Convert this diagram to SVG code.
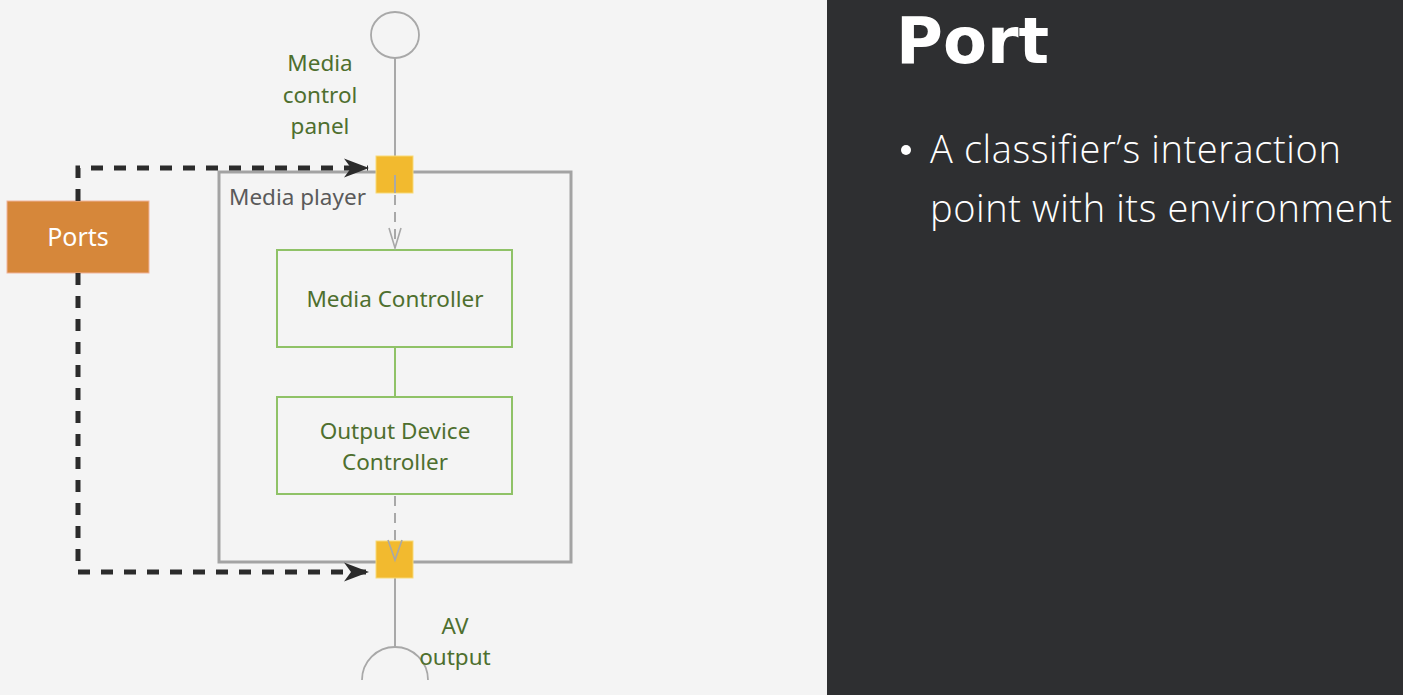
<svg xmlns="http://www.w3.org/2000/svg" width="1403" height="695" viewBox="0 0 1403 695">
  <style>
    .lbl { font-family: "Noto Sans", "Liberation Sans", sans-serif; font-size: 22.5px; fill: #4e6f2e; text-anchor: middle; }
    .gray { fill: #5a5a5a; text-anchor: start; }
    .box { fill: none; stroke: #8fc267; stroke-width: 2; }
    .port { fill: #f2ba2f; stroke: #f7d978; stroke-width: 1; }
    .thin { stroke: #a8a8a8; stroke-width: 2; fill: none; }
    .dash { stroke: #a8a8a8; stroke-width: 2; fill: none; stroke-dasharray: 10 7; }
    .vhead { stroke: #a8a8a8; stroke-width: 1.6; fill: none; }
    .bold { stroke: #2b2b2b; stroke-width: 5; fill: none; stroke-dasharray: 12 11; }
    .slide { font-family: "Open Sans", "Lato", "Noto Sans", sans-serif; fill: #ffffff; }
  </style>
  <defs>
    <marker id="arrowBlack" markerWidth="26" markerHeight="20" refX="24" refY="10" orient="auto" markerUnits="userSpaceOnUse">
      <path d="M0,0.5 L25,10 L0,19.5 L7,10 Z" fill="#2b2b2b"/>
    </marker>
  </defs>

  <rect x="0" y="0" width="827" height="695" fill="#f4f4f4"/>
  <rect x="827" y="0" width="576" height="695" fill="#2e2f31"/>

  <g id="media-player">
    <rect x="219" y="172" width="352" height="390" fill="none" stroke="#a3a3a3" stroke-width="3"/>
    <text class="lbl gray" x="229" y="205">Media player</text>
  </g>

  <g id="media-control-panel">
    <ellipse cx="395" cy="35" rx="24" ry="23" fill="none" stroke="#a8a8a8" stroke-width="1.8"/>
    <text class="lbl" x="320" y="71">Media</text>
    <text class="lbl" x="320" y="103">control</text>
    <text class="lbl" x="320" y="134">panel</text>
  </g>

  <g id="av-output">
    <path d="M362,680 A33,33 0 0 1 428,680" fill="none" stroke="#a8a8a8" stroke-width="1.8"/>
    <text class="lbl" x="455" y="634">AV</text>
    <text class="lbl" x="455" y="665">output</text>
  </g>

  <g id="media-controller">
    <rect class="box" x="277" y="250" width="235" height="97"/>
    <text class="lbl" x="395" y="307">Media Controller</text>
  </g>

  <g id="output-device-controller">
    <rect class="box" x="277" y="397" width="235" height="97"/>
    <text class="lbl" x="395" y="439">Output Device</text>
    <text class="lbl" x="395" y="470">Controller</text>
  </g>

  <g id="ports">
    <rect x="7" y="201" width="142" height="72" fill="#d6873a" stroke="#f0b39a" stroke-width="1"/>
    <text x="78" y="246" font-family="Noto Sans, Liberation Sans, sans-serif" font-size="25" fill="#ffffff" text-anchor="middle">Ports</text>
  </g>

  <g id="connectors">
    <line class="thin" x1="395" y1="58" x2="395" y2="157"/>
    <line class="thin" x1="395" y1="578" x2="395" y2="647"/>
    <line x1="395" y1="347" x2="395" y2="397" stroke="#8fc267" stroke-width="2"/>
    <path class="dash" d="M395,195 L395,248"/>
    <path class="vhead" d="M389,228 L395,248 L401,228"/>
    <path class="dash" d="M395,496 L395,545"/>
    <path class="bold" d="M78,201 L78,168 L368,168" marker-end="url(#arrowBlack)"/>
    <path class="bold" d="M78,273 L78,572 L368,572" marker-end="url(#arrowBlack)"/>
  </g>

  <g id="port-top">
    <rect class="port" x="376" y="156" width="37" height="37"/>
    <line x1="395" y1="175" x2="395" y2="193" stroke="#a8a8a8" stroke-width="2"/>
  </g>
  <g id="port-bottom">
    <rect class="port" x="376" y="541" width="37" height="37"/>
    <path class="vhead" d="M388,540 L395,560 L402,540"/>
  </g>

  <g id="slide-text">
    <text x="896" y="63" font-family="DejaVu Sans, sans-serif" font-size="64" font-weight="700" fill="#ffffff">Port</text>
    <circle cx="906" cy="150" r="5" fill="#ffffff"/>
    <text class="slide" x="930" y="163" font-size="38" font-weight="300" letter-spacing="0.6">A classifier’s interaction</text>
    <text class="slide" x="930" y="222" font-size="38" font-weight="300" letter-spacing="0.6">point with its environment</text>
  </g>
</svg>
